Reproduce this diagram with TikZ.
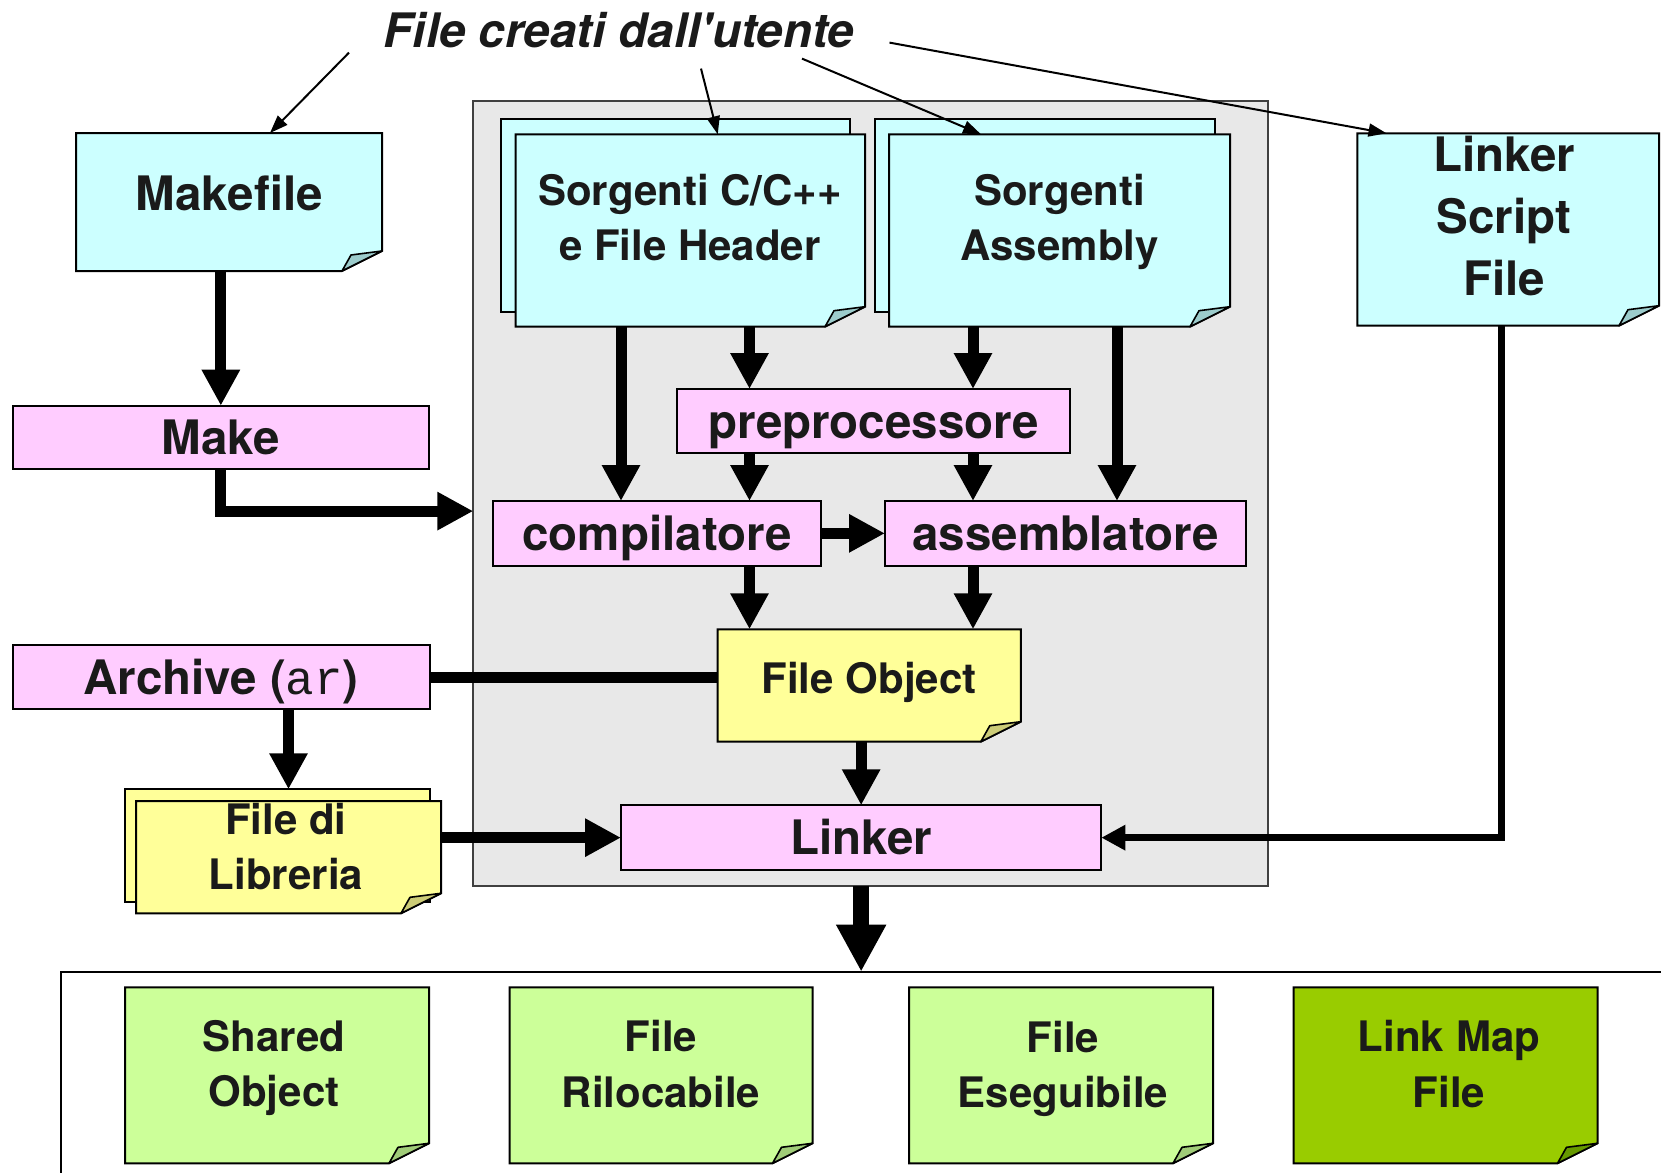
\documentclass[tikz,border=0pt]{standalone}
\usepackage{fontspec}
\setmainfont{TeX Gyre Heros}
\setmonofont{Liberation Mono}
\newfontfamily\plainheros{TeX Gyre Heros}
\usetikzlibrary{arrows.meta}
\definecolor{paleteal}{HTML}{CCFFFF}
\definecolor{tealfold}{HTML}{9CCCCC}
\definecolor{palepink}{HTML}{FFCCFF}
\definecolor{paleyellow}{HTML}{FFFF99}
\definecolor{yellowfold}{HTML}{CCCC77}
\definecolor{palegreen}{HTML}{CCFF99}
\definecolor{greenfold}{HTML}{A0CC78}
\definecolor{mapgreen}{HTML}{99CC00}
\definecolor{mapfold}{HTML}{669900}
\definecolor{toolgrey}{HTML}{E8E8E8}
\definecolor{toolline}{HTML}{404040}
\definecolor{ink}{HTML}{1A1A1A}
\begin{document}
\begin{tikzpicture}[x=0.5pt, y=-0.5pt, text=ink,
  font=\fontsize{23.75}{31}\selectfont\bfseries,
  small/.style={font=\fontsize{21}{27.75}\selectfont\bfseries},
  sheet/.style={draw=black, line width=1pt, fill=#1, inner sep=0pt, outer sep=0pt},
  box/.style={sheet=palepink, text height=17pt, text depth=0pt},
  doc/.style 2 args={inner sep=0pt, outer sep=0pt,
    append after command={\pgfextra{
      \filldraw[fill=#1, line width=1pt]
        (\tikzlastnode.north west) -- (\tikzlastnode.north east)
        -- ([yshift=10pt]\tikzlastnode.south east) -- ([xshift=-20pt]\tikzlastnode.south east)
        -- (\tikzlastnode.south west) -- cycle;
      \filldraw[fill=#2, line width=0.8pt, line join=round]
        ([xshift=-20pt]\tikzlastnode.south east) -- ([xshift=-15.5pt,yshift=8pt]\tikzlastnode.south east)
        -- ([yshift=10pt]\tikzlastnode.south east) -- cycle;}}},
  lbl/.style={align=center, inner sep=0pt},
  arr/.style={line width=5.5pt, -{Triangle[width=18pt,length=18pt]}},
  slim/.style={line width=3.5pt, -{Triangle[width=12pt,length=12pt]}},
  bigarr/.style={line width=8pt, -{Triangle[width=23.5pt,length=23.5pt]}},
  note/.style={line width=1pt, -{Triangle[width=6.5pt,length=9pt]}}]
\useasboundingbox (0,0) rectangle (1661,1173);
\node[sheet=toolgrey, draw=toolline, minimum width=397.35pt, minimum height=392.4pt] (tools) at (870.65,493.1) {};
\node[draw, line width=1pt, inner sep=0pt, outer sep=0pt, minimum width=819.3pt, minimum height=139.15pt] (outf) at (880.7,1110.85) {};
\coordinate (c1) at (621,0);
\coordinate (c2) at (749.5,0);
\coordinate (c3) at (973,0);
\coordinate (c4) at (1117,0);
\coordinate (c5) at (1501,0);
\node[anchor=base, inner sep=0pt, font=\plainheros\fontsize{23.75}{31}\selectfont\bfseries\itshape] (ttl) at (619,47) {File creati dall'utente};
\node[doc={paleteal}{tealfold}, minimum width=153pt, minimum height=69pt] (mkf) at (229,202) {};
\node[anchor=base, inner sep=0pt] (mkft) at (229.3,210) {Makefile};
\node[sheet=paleteal, minimum width=174.5pt, minimum height=96.35pt] (srcb) at (675.1,215.35) {};
\node[doc={paleteal}{tealfold}, minimum width=174.75pt, minimum height=96.2pt] (src) at (690.25,230.5) {};
\node[lbl, small] (srct) at (690,217.5) {Sorgenti C/C++\\e File Header};
\node[sheet=paleteal, minimum width=170.15pt, minimum height=96.2pt] (asfb) at (1044.85,215.5) {};
\node[doc={paleteal}{tealfold}, minimum width=170.5pt, minimum height=96.2pt] (asf) at (1059.5,230.5) {};
\node[lbl, small] (asft) at (1059.5,222) {Sorgenti\\Assembly};
\node[doc={paleteal}{tealfold}, minimum width=150.8pt, minimum height=96.2pt] (ls) at (1508.2,229.5) {};
\node[lbl] (lst) at (1504,216.4) {Linker\\Script\\File};
\node[box, minimum width=208.15pt, minimum height=31.8pt] (mk) at (220.85,437.5) {Make};
\node[box, minimum width=196.5pt, minimum height=32.15pt] (pre) at (873.5,421.15) {preprocessore};
\node[box, minimum width=164pt, minimum height=32.35pt] (cmp) at (657,533.35) {compilatore};
\node[box, minimum width=180.5pt, minimum height=32.35pt] (asm) at (1065.5,533.35) {assemblatore};
\node[box, minimum width=208.5pt, minimum height=32.15pt] (arc) at (221,677.15) {Archive ({\ttfamily\mdseries ar})};
\node[doc={paleyellow}{yellowfold}, minimum width=151.6pt, minimum height=56.2pt] (fo) at (869.2,685.5) {};
\node[anchor=base, inner sep=0pt, small] (fot) at (869,693.3) {File Object};
\node[sheet=paleyellow, minimum width=152.25pt, minimum height=56.5pt] (libb) at (277.25,845.8) {};
\node[doc={paleyellow}{yellowfold}, minimum width=152.5pt, minimum height=56.15pt] (lib) at (288.5,857.15) {};
\node[lbl, small] (libt) at (286,846.5) {File di\\Libreria};
\node[box, minimum width=240.15pt, minimum height=32.35pt] (lnk) at (861.15,837.65) {Linker};
\node[doc={palegreen}{greenfold}, minimum width=152pt, minimum height=88pt] (so) at (277,1075.3) {};
\node[lbl, small] (sot) at (274,1068.2) {Shared\\Object};
\node[doc={palegreen}{greenfold}, minimum width=151.5pt, minimum height=88pt] (ril) at (661,1075.3) {};
\node[lbl, small] (rilt) at (661,1064.2) {File\\Rilocabile};
\node[doc={palegreen}{greenfold}, minimum width=152pt, minimum height=88pt] (ese) at (1061,1075.3) {};
\node[lbl, small] (eset) at (1063,1068.7) {File\\Eseguibile};
\node[doc={mapgreen}{mapfold}, minimum width=152pt, minimum height=88pt] (map) at (1445.5,1075.3) {};
\node[lbl, small] (mapt) at (1449,1064.2) {Link Map\\File};
\draw[note] ([shift={(-270,23)}]ttl.center) -- ([shift={(41,0)}]mkf.north);
\draw[note] ([shift={(82,39)}]ttl.center) -- ([shift={(27.5,0)}]src.north);
\draw[note] ([shift={(183,29)}]ttl.center) -- ([shift={(-78.5,0)}]asf.north);
\draw[note] ([shift={(270.5,13)}]ttl.center) -- ([shift={(-121.7,0)}]ls.north);
\draw[arr] (mkf.south -| mk) -- (mk.north);
\draw[arr] (mk.south) |- ([yshift=-9pt]tools.west);
\draw[arr] (src.south -| c1) -- (cmp.north -| c1);
\draw[arr] (src.south -| c2) -- (pre.north -| c2);
\draw[arr] (asf.south -| c3) -- (pre.north -| c3);
\draw[arr] (asf.south -| c4) -- (asm.north -| c4);
\draw[arr] (pre.south -| c2) -- (cmp.north -| c2);
\draw[arr] (pre.south -| c3) -- (asm.north -| c3);
\draw[arr] (cmp.east) -- (asm.west);
\draw[arr] (cmp.south -| c2) -- (fo.north -| c2);
\draw[arr] (asm.south -| c3) -- (fo.north -| c3);
\draw[line width=5.5pt] (arc.east) -- (arc.east -| fo.west);
\draw[arr] (arc.south -| lib) -- (libb.north -| lib);
\draw[arr] (lnk.west -| lib.east) -- (lnk.west);
\draw[arr] (fo.south -| lnk) -- (lnk.north);
\draw[slim] (ls.south -| c5) |- (lnk.east);
\draw[bigarr] (tools.south -| lnk) -- (outf.north -| lnk);
\end{tikzpicture}
\end{document}
